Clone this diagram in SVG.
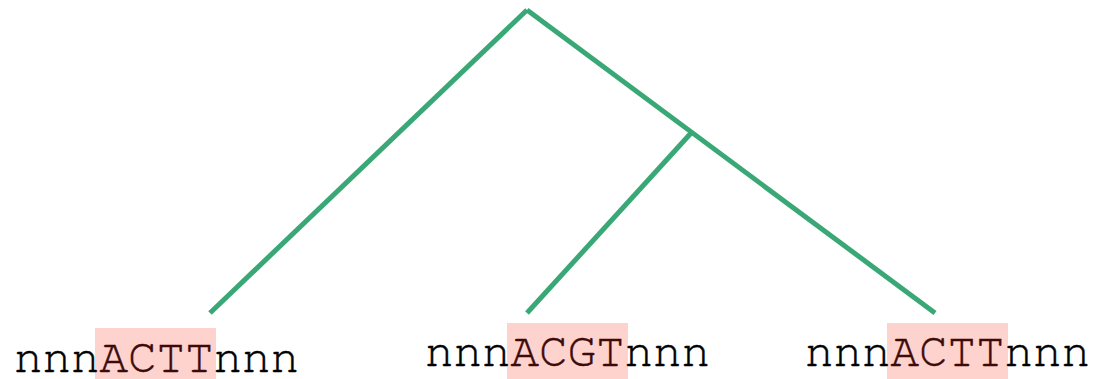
<svg xmlns="http://www.w3.org/2000/svg" width="1094" height="379" viewBox="0 0 1094 379">
<style>
.edge{stroke:#3aa876;stroke-width:5;fill:none;stroke-linecap:butt}
.lbl{font-family:FreeMono,"Liberation Mono","Courier New",monospace;font-size:47.5px;fill:#000;stroke:#000;stroke-width:0.5}
.hl{fill:#ffd3cd}
.mot{fill:#3d0a0a;stroke:#3d0a0a}
</style>
<rect width="1094" height="379" fill="#fff"/>
<g id="connectors">
<line class="edge" x1="527" y1="10" x2="210" y2="313"/>
<line class="edge" x1="527" y1="10" x2="935" y2="313"/>
<line class="edge" x1="692" y1="132" x2="527" y2="313"/>
</g>
<g id="leaf1">
<rect class="hl" x="95" y="328" width="121" height="51"/>
<text class="lbl" x="14" y="372">nnn<tspan class="mot">ACTT</tspan>nnn</text>
</g>
<g id="leaf2">
<rect class="hl" x="507" y="323" width="121" height="56"/>
<text class="lbl" x="425" y="366">nnn<tspan class="mot">ACGT</tspan>nnn</text>
</g>
<g id="leaf3">
<rect class="hl" x="887" y="323" width="121" height="56"/>
<text class="lbl" x="805" y="366">nnn<tspan class="mot">ACTT</tspan>nnn</text>
</g>
</svg>
